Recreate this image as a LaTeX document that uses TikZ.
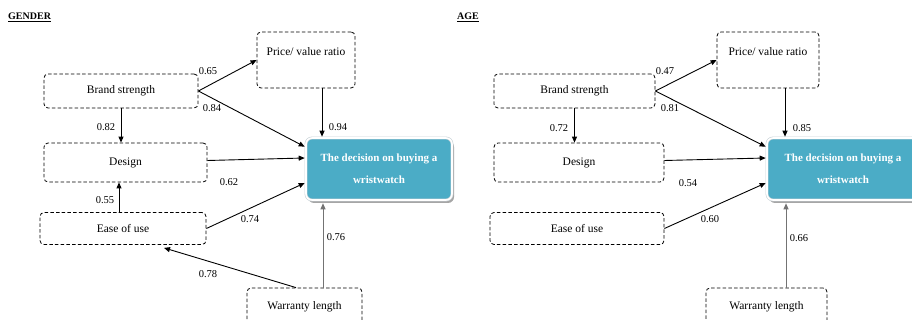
\documentclass[tikz,border=0pt]{standalone}
\usepackage{fontspec}
\setmainfont{Liberation Serif}
\usetikzlibrary{arrows.meta,calc,shadows}
\definecolor{decblue}{RGB}{75,172,198}
\definecolor{decrim}{RGB}{200,210,215}
\begin{document}
\begin{tikzpicture}[x=1pt,y=-1pt,
  dbox/.style={draw, dash pattern=on 3.5pt off 2.2pt, line width=0.8pt, rounded corners=4pt,
    inner sep=0pt, font=\fontsize{11.5}{13}\selectfont},
  decbox/.style={fill=decblue, draw=decrim, double=white, double distance=1.6pt, line width=0.6pt,
    rounded corners=6pt, inner sep=0pt, text=white, align=center,
    font=\bfseries\fontsize{11}{22}\selectfont,
    drop shadow={shadow xshift=2pt, shadow yshift=-3pt, fill=black!35, opacity=1}},
  conn/.style={-{Triangle[length=6pt,width=5pt]}, line width=0.9pt},
  gconn/.style={conn, draw=black!55},
  num/.style={font=\fontsize{10.5}{12}\selectfont, inner sep=0pt},
  ttl/.style={font=\bfseries\fontsize{10}{12}\selectfont, anchor=base west, inner sep=0pt}]
\useasboundingbox (0,0) rectangle (912,320);
\clip (0,0) rectangle (912,320);

% ---------------- GENDER ----------------
\node[ttl] (t1) at (8,20) {\underline{GENDER}};
\node[dbox, minimum width=98, minimum height=56] (p1) at (306,60) {};
\node[font=\fontsize{11.5}{13}\selectfont] (p1t) at (306,52) {Price/ value ratio};
\node[dbox, minimum width=154, minimum height=34] (b1) at (121,91) {Brand strength};
\node[dbox, minimum width=163, minimum height=39] (d1) at (125.5,162.5) {Design};
\node[dbox, minimum width=166, minimum height=32] (e1) at (123,228.5) {Ease of use};
\node[dbox, minimum width=115, minimum height=37] (w1) at (304.5,306.5) {Warranty length};
\node[decbox, minimum width=146, minimum height=62] (c1) at (379,169) {The decision on buying a\\wristwatch};

\coordinate (e1top) at ($(e1.north)+(-4,0)$);
\draw[conn] (b1.east) -- (p1.west);
\draw[conn] (b1.east) -- ($(c1.north west)+(-1,9)$);
\draw[conn] ($(p1.south)+(16,0)$) -- ($(c1.north)+(-57,-1)$);
\draw[conn] (b1.south) -- (b1.south |- d1.north);
\draw[conn] ($(d1.east)+(0,-2)$) -- ($(c1.west)+(-1,-11)$);
\draw[conn] (e1top) -- (e1top |- d1.south);
\draw[conn] (e1.east) -- ($(c1.west)+(-1,14)$);
\draw[gconn] ($(w1.north)+(18.5,0)$) -- ($(c1.south)+(-56,3)$);
\draw[conn] ($(w1.north)+(-8.5,0)$) -- ($(e1.south)+(41,3)$);

\node[num] (l1a) at (208,71) {0.65};
\node[num] (l1b) at (212,108) {0.84};
\node[num] (l1c) at (338,127) {0.94};
\node[num] (l1d) at (106,127) {0.82};
\node[num] (l1e) at (229,182) {0.62};
\node[num] (l1f) at (105,200) {0.55};
\node[num] (l1g) at (250,219) {0.74};
\node[num] (l1h) at (336,237) {0.76};
\node[num] (l1i) at (208,274) {0.78};

% ---------------- AGE ----------------
\node[ttl] (t2) at (457,20) {\underline{AGE}};
\node[dbox, minimum width=102, minimum height=56] (p2) at (768,60) {};
\node[font=\fontsize{11.5}{13}\selectfont] (p2t) at (768,52) {Price/ value ratio};
\node[dbox, minimum width=161, minimum height=34] (b2) at (574.5,91) {Brand strength};
\node[dbox, minimum width=170, minimum height=39] (d2) at (579,162.5) {Design};
\node[dbox, minimum width=174, minimum height=32] (e2) at (577,228.5) {Ease of use};
\node[dbox, minimum width=121, minimum height=37] (w2) at (766.5,306.5) {Warranty length};
\node[decbox, minimum width=152, minimum height=62] (c2) at (843,169) {The decision on buying a\\wristwatch};

\draw[conn] (b2.east) -- (p2.west);
\draw[conn] (b2.east) -- ($(c2.north west)+(-1,9)$);
\draw[conn] ($(p2.south)+(17,0)$) -- ($(c2.north)+(-58,-1)$);
\draw[conn] (b2.south) -- (b2.south |- d2.north);
\draw[conn] ($(d2.east)+(0,-2)$) -- ($(c2.west)+(-1,-11)$);
\draw[conn] (e2.east) -- ($(c2.west)+(-1,14)$);
\draw[gconn] ($(w2.north)+(19.5,0)$) -- ($(c2.south)+(-57,3)$);

\node[num] (l2a) at (665,71) {0.47};
\node[num] (l2b) at (670,108) {0.81};
\node[num] (l2c) at (802,128) {0.85};
\node[num] (l2d) at (559,128) {0.72};
\node[num] (l2e) at (688,183) {0.54};
\node[num] (l2f) at (710,219) {0.60};
\node[num] (l2g) at (799,238) {0.66};
\end{tikzpicture}
\end{document}
